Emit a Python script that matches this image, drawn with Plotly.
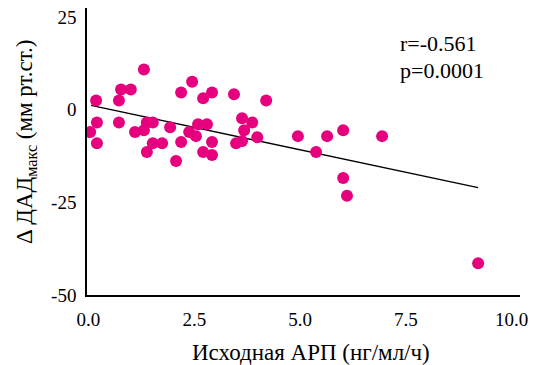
import plotly.graph_objects as go

arp = [0.04, 0.18, 0.2, 0.2, 0.72, 0.72, 0.77, 1.0, 1.31, 1.1, 1.31, 1.38, 1.52, 1.38, 1.52,
       1.74, 1.93, 2.07, 2.19, 2.19, 2.38, 2.45, 2.54, 2.59, 2.71, 2.71, 2.8, 2.92, 2.92, 2.92,
       3.44, 3.49, 3.63, 3.63, 3.68, 3.87, 3.99, 4.2, 4.95, 5.38, 5.64, 6.02, 6.02, 6.11, 6.94, 9.21]
dad = [-6.0, 2.5, -3.4, -9.0, 2.5, -3.4, 5.5, 5.5, 10.9, -6.0, -5.5, -3.4, -3.4, -11.4, -9.0,
       -9.0, -4.7, -13.8, 4.7, -8.7, -6.0, 7.6, -7.1, -3.9, 3.1, -11.4, -3.9, 4.7, -8.7, -12.2,
       4.2, -9.0, -2.3, -8.4, -5.5, -3.4, -7.4, 2.5, -7.1, -11.4, -7.1, -5.5, -18.4, -23.2, -7.1, -41.4]
fit_x = [0.06, 9.21]
fit_y = [1.2, -21.0]
x_ticks = [0, 2.5, 5, 7.5, 10]
x_tick_labels = ["0.0", "2.5", "5.0", "7.5", "10.0"]
y_ticks = [-50, -25, 0, 25]
y_tick_labels = ["-50", "-25", "0", "25"]

FONT = "Liberation Serif"

L, R, T, B = 87, 15, 8, 70
W, H = 535, 365
PW, PH = W - L - R, H - T - B

fig = go.Figure()
fig.add_trace(go.Scatter(x=fit_x, y=fit_y, mode="lines",
                         line=dict(color="black", width=1.5), hoverinfo="skip"))
fig.add_trace(go.Scatter(x=arp, y=dad, mode="markers",
                         marker=dict(color="#E6007E", size=12, line=dict(width=0))))

fig.update_layout(
    width=W, height=H,
    margin=dict(l=L, r=R, t=T, b=B),
    paper_bgcolor="white", plot_bgcolor="white",
    showlegend=False,
    font=dict(family=FONT, size=19, color="black"),
)
fig.update_xaxes(
    range=[-0.035, 10.2], tickvals=x_ticks, ticktext=x_tick_labels,
    showline=True, linecolor="black", linewidth=1.5, showgrid=False, zeroline=False,
    ticks="outside", ticklen=6, tickcolor="rgba(0,0,0,0)", automargin=False,
    tickfont=dict(family=FONT, size=19),
)
fig.update_yaxes(
    range=[-50, 27.5], tickvals=y_ticks, ticktext=y_tick_labels,
    showline=True, linecolor="black", linewidth=1.5, showgrid=False, zeroline=False,
    ticks="outside", ticklen=5, tickcolor="rgba(0,0,0,0)", automargin=False,
    tickfont=dict(family=FONT, size=19),
)
# axis titles
fig.add_annotation(x=(311 - L) / PW, y=-(352 - (H - B)) / PH, xref="paper", yref="paper",
                   text="Исходная АРП (нг/мл/ч)", showarrow=False,
                   xanchor="center", yanchor="middle", font=dict(family=FONT, size=23))
fig.add_annotation(x=-(L - 26) / PW, y=(H - B - 142) / PH, xref="paper", yref="paper",
                   text="Δ ДАД<sub>макс</sub> (мм рт.ст.)", showarrow=False, textangle=-90,
                   xanchor="center", yanchor="middle", font=dict(family=FONT, size=23))
fig.add_annotation(x=(398 - L) / PW, y=(H - B - 44) / PH, xref="paper", yref="paper",
                   text="r=-0.561", showarrow=False, xanchor="left", yanchor="middle",
                   font=dict(family=FONT, size=22))
fig.add_annotation(x=(398 - L) / PW, y=(H - B - 70) / PH, xref="paper", yref="paper",
                   text="p=0.0001", showarrow=False, xanchor="left", yanchor="middle",
                   font=dict(family=FONT, size=22))

fig.write_html("out.html", config={"displayModeBar": False},
               post_script="document.body.style.margin='0';document.body.style.padding='0';")
